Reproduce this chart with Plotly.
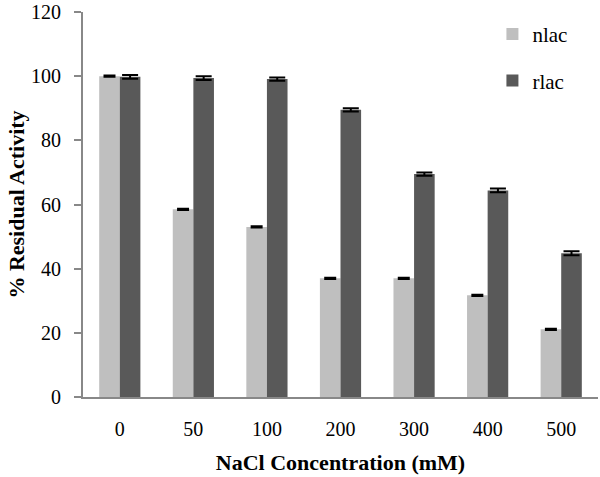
import plotly.graph_objects as go

categories = ["0", "50", "100", "200", "300", "400", "500"]
nlac = [100, 58.5, 53, 37, 37, 31.7, 21.1]
nlac_err = [0.2, 0.2, 0.2, 0.2, 0.2, 0.2, 0.2]
rlac = [99.8, 99.4, 99.1, 89.5, 69.5, 64.4, 44.8]
rlac_err = [0.6, 0.6, 0.5, 0.5, 0.5, 0.6, 0.6]
y_ticks = [0, 20, 40, 60, 80, 100, 120]

serif = "Liberation Serif, DejaVu Serif, serif"

fig = go.Figure()
fig.add_bar(x=categories, y=nlac, name="nlac", marker_color="#bfbfbf",
            marker_line_width=0, legendgroup="a",
            error_y=dict(type="data", array=nlac_err, color="black", thickness=2, width=6))
fig.add_bar(x=categories, y=rlac, name="rlac", marker_color="#595959",
            marker_line_width=0, legendgroup="b",
            error_y=dict(type="data", array=rlac_err, color="black", thickness=2, width=8))

fig.update_layout(
    width=600, height=477,
    margin=dict(l=83, r=2, t=12, b=80, autoexpand=False),
    plot_bgcolor="white", paper_bgcolor="white",
    barmode="group", bargap=0.44, bargroupgap=0,
    font=dict(family=serif, size=20, color="black"),
    legend=dict(x=0.795, y=0.995, xanchor="left", yanchor="top",
                font=dict(size=21), tracegroupgap=16, traceorder="grouped",
                itemwidth=30, bgcolor="rgba(0,0,0,0)"),
    xaxis=dict(showline=True, linecolor="#888888", linewidth=2, ticks="",
               showgrid=False, tickfont=dict(size=20), automargin=False,
               ticklabelstandoff=13,
               title=dict(text="<b>NaCl Concentration (mM)</b>", font=dict(size=22), standoff=16)),
    yaxis=dict(range=[0, 120], tickvals=y_ticks, showline=True, linecolor="#888888",
               linewidth=2, ticks="outside", ticklen=7, tickcolor="#888888", tickwidth=2,
               showgrid=False, zeroline=False, tickfont=dict(size=20), automargin=False,
               ticklabelstandoff=9, ticklabeloverflow="allow",
               title=dict(text="<b>% Residual Activity</b>", font=dict(size=22), standoff=0)),
)

# remove the page's default 8px body margin so the figure sits at the window origin
fig.write_html("out.html", config={"displayModeBar": False},
               post_script="document.body.style.margin='0';")
